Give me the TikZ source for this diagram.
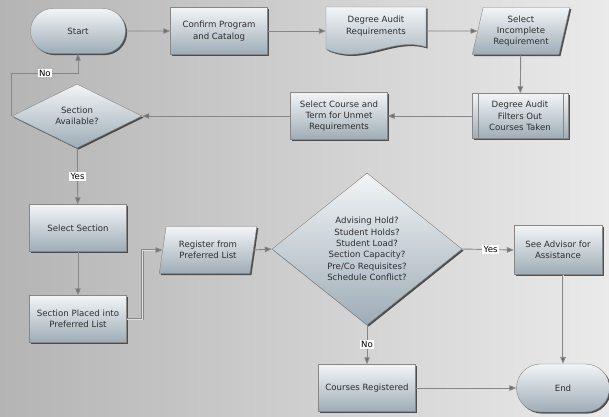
\documentclass[tikz,border=0pt]{standalone}
\usepackage{fontspec}
\setmainfont{DejaVu Sans}
\usetikzlibrary{shapes.geometric,shapes.misc,shadows,arrows.meta}
\pgfdeclarelayer{bg}
\pgfdeclarelayer{shapes}
\pgfsetlayers{bg,shapes,main}
\definecolor{pagedark}{RGB}{180,180,180}
\definecolor{pagelight}{RGB}{234,234,234}
\definecolor{boxtop}{RGB}{242,245,247}
\definecolor{boxbottom}{RGB}{158,172,182}
\definecolor{edge}{RGB}{135,135,135}
\definecolor{tip}{RGB}{110,110,110}
\definecolor{txt}{RGB}{45,45,45}
\tikzset{
  box/.style={draw=edge, top color=boxtop, bottom color=boxbottom, text=txt,
    font=\fontsize{8.6}{11.3}\selectfont, align=center, inner sep=1pt,
    drop shadow={shadow xshift=1.6pt, shadow yshift=-1.6pt, fill=black!75, opacity=0.9}},
  process/.style={box, rectangle, minimum width=97pt, minimum height=47pt},
  terminal/.style={box, rounded rectangle, minimum width=97pt, minimum height=45pt},
  decision/.style={box, diamond, inner sep=0pt},
  io/.style={box, trapezium, trapezium left angle=76, trapezium right angle=104,
    trapezium stretches=true, minimum width=98pt, minimum height=47pt},
  flow/.style={draw=edge, line width=0.9pt, -{Triangle[length=7pt,width=5.5pt,fill=tip]}},
  flowdouble/.style={flow, double=black!12, double distance=0.7pt},
  choice/.style={fill=white, inner sep=1.2pt, text=black, font=\fontsize{8.6}{10}\selectfont}
}
\begin{document}
\begin{tikzpicture}[x=1pt, y=-1pt]
    % page
    \begin{pgfonlayer}{bg}
    \shade[left color=pagedark, right color=pagelight] (0,0) rectangle (609,416);
    \end{pgfonlayer}
    \useasboundingbox (0,0) rectangle (609,416);

    % top row
    \node[terminal] (start) at (78,31) {Start};
    \node[process] (confirm) at (219,31) {Confirm Program\\and Catalog};
    \node[align=center, text=txt, font=\fontsize{8.6}{11.3}\selectfont,
      minimum width=100pt, minimum height=48pt, inner sep=1pt] (audit) at (376,31)
      {Degree Audit\\Requirements\\\mbox{}};
    \begin{pgfonlayer}{shapes}
    \fill[black!75, opacity=0.9, shift={(1.6pt,-1.6pt)}] (326,7) -- (426,7) -- (426,47)
      .. controls (392,36) and (362,66) .. (326,49) -- cycle;
    \shade[draw=edge, top color=boxtop, bottom color=boxbottom] (326,7) -- (426,7) -- (426,47)
      .. controls (392,36) and (362,66) .. (326,49) -- cycle;
    \end{pgfonlayer}
    \node[io] (incomplete) at (521,31) {Select\\Incomplete\\Requirement};

    % second row
    \node[process, minimum width=96pt, minimum height=45pt] (filters) at (520,116)
      {Degree Audit\\Filters Out\\Courses Taken};
    \draw[edge] ([xshift=6pt]filters.north west) -- ([xshift=6pt]filters.south west);
    \draw[edge] ([xshift=-5pt]filters.north east) -- ([xshift=-5pt]filters.south east);
    \node[process] (course) at (339,116) {Select Course and\\Term for Unmet\\Requirements};
    \node[decision, minimum width=130pt, minimum height=64pt] (avail) at (77,116)
      {Section\\Available?};

    % lower part
    \node[process] (section) at (78,228) {Select Section};
    \node[process] (placed) at (78,319) {Section Placed into\\Preferred List};
    \node[io] (register) at (208,250) {Register from\\Preferred List};
    \node[decision, minimum width=190pt, minimum height=152pt] (check) at (367,249)
      {Advising Hold?\\Student Holds?\\Student Load?\\Section Capacity?\\Pre/Co Requisites?\\Schedule Conflict?};
    \node[process, minimum width=88pt, minimum height=49pt] (advisor) at (558,250)
      {See Advisor for\\Assistance};
    \node[process] (registered) at (367,388) {Courses Registered};
    \node[terminal, minimum width=95pt, minimum height=48pt] (end) at (563,388) {End};

    % connectors
    \draw[flow] (start) -- (confirm);
    \draw[flow] (confirm.east) -- (confirm.east -| audit.west);
    \draw[flow] (audit.east) -- (incomplete);
    \draw[flow] (incomplete) -- (filters);
    \draw[flow] (filters) -- (course);
    \draw[flow] (course) -- (avail);
    \draw[flow] (avail.west) -- ++(0,-43) -| (start.south) node[choice, pos=0.25] {No};
    \draw[flow] (avail) -- (section) node[choice, midway] {Yes};
    \draw[flow] (section) -- (placed);
    \draw[flowdouble] (placed.east) -- ++(16,0) |- (register.west);
    \draw[flow] (register.east) -- (check.west);
    \draw[flow] (check.east) -- (advisor.west) node[choice, pos=0.55] {Yes};
    \draw[flow] (check.south) -- (registered) node[choice, midway] {No};
    \draw[flowdouble] (advisor.south -| end.north) -- (end.north);
    \draw[flow] (registered) -- (end);
\end{tikzpicture}
\end{document}
